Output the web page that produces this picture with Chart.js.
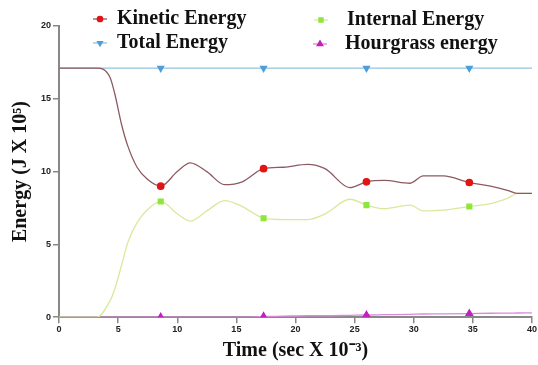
<!DOCTYPE html>
<html>
<head>
<meta charset="utf-8">
<script src="https://cdn.jsdelivr.net/npm/chart.js@4/dist/chart.umd.min.js"></script>
<style>
  html, body { margin: 0; padding: 0; background: #fff; }
  #wrap { width: 538px; height: 365px; }
</style>
</head>
<body>
<div id="wrap"><canvas id="chart" width="538" height="365"></canvas></div>
<script>
'use strict';
// time (sec x 10^-3)
var timeValues = [0, 2.5, 3.2, 4.3, 4.7, 5.3, 5.8, 6.6, 7.5, 8.6, 10, 11.1, 12.5, 14, 15.5, 17.3, 19, 21, 22.5, 24.6, 26, 27.5, 29.7, 30.8, 32.5, 34.7, 36.5, 38, 38.8, 40];
// energy (J x 10^5)
var kineticValues = [17.1, 17.1, 17.1, 16.5, 15.4, 13.2, 11.8, 10.3, 9.45, 9.0, 10.0, 10.6, 10.0, 9.1, 9.3, 10.2, 10.3, 10.5, 10.2, 8.9, 9.3, 9.4, 9.2, 9.7, 9.7, 9.25, 9.0, 8.7, 8.5, 8.5];
var internalValues = [0, 0, 0, 1.1, 1.9, 3.6, 5.1, 6.5, 7.4, 7.95, 7.1, 6.6, 7.3, 8.0, 7.6, 6.8, 6.7, 6.7, 7.1, 8.1, 7.7, 7.45, 7.7, 7.3, 7.35, 7.6, 7.8, 8.2, 8.5, 8.5];
var totalValues = [17.1, 17.1, 17.1, 17.1, 17.1, 17.1, 17.1, 17.1, 17.1, 17.1, 17.1, 17.1, 17.1, 17.1, 17.1, 17.1, 17.1, 17.1, 17.1, 17.1, 17.1, 17.1, 17.1, 17.1, 17.1, 17.1, 17.1, 17.1, 17.1, 17.1];
var hourglassValues = [0, 0, 0, 0, 0, 0, 0, 0, 0, 0, 0, 0, 0, 0, 0, 0.05, 0.07, 0.1, 0.1, 0.13, 0.15, 0.17, 0.2, 0.22, 0.23, 0.25, 0.27, 0.28, 0.29, 0.3];
var markerTimes = [8.6, 17.3, 26, 34.7];
var xTicks = [0, 5, 10, 15, 20, 25, 30, 35, 40];
var yTicks = [0, 5, 10, 15, 20];

function toPoints(values) {
    var pts = [];
    for (var i = 0; i < timeValues.length; i++) {
        pts.push({ x: timeValues[i], y: values[i] });
    }
    return pts;
}
function markerRadius(r) {
    return function (ctx) {
        return markerTimes.indexOf(timeValues[ctx.dataIndex]) !== -1 ? r : 0;
    };
}

var series = [
    { label: 'Kinetic Energy', data: kineticValues, line: '#8c5a62', point: '#e21414', style: 'circle', rot: 0, r: 3.2 },
    { label: 'Internal Energy', data: internalValues, line: '#d9e99c', point: '#8ee63a', style: 'rect', rot: 0, r: 3.4 },
    { label: 'Total Energy', data: totalValues, line: '#92c4e0', point: '#4c9fd9', style: 'triangle', rot: 180, r: 3.4 },
    { label: 'Hourgrass energy', data: hourglassValues, line: '#d88ad8', point: '#c21fc2', style: 'triangle', rot: 0, r: 3.8 }
];

var datasets = [];
for (var _i = 0; _i < series.length; _i++) {
    var s = series[_i];
    datasets.push({
        label: s.label,
        data: toPoints(s.data),
        borderColor: s.line,
        borderWidth: 1.3,
        backgroundColor: s.point,
        pointBackgroundColor: s.point,
        pointBorderColor: s.point,
        pointStyle: s.style,
        pointRotation: s.rot,
        pointRadius: markerRadius(s.r),
        pointHoverRadius: 0,
        cubicInterpolationMode: 'monotone',
        fill: false
    });
}

// legend drawn in two columns over the top of the plot
var legendPlugin = {
    id: 'twoColLegend',
    afterDraw: function (chart) {
        var ctx = chart.ctx;
        var spots = [
            { x: 100, y: 19 }, { x: 321, y: 20 },
            { x: 100, y: 43 }, { x: 320, y: 44 }
        ];
        var textX = [117, 347, 117, 345];
        ctx.save();
        ctx.font = 'bold 20px "Liberation Serif", "Times New Roman", serif';
        ctx.textBaseline = 'middle';
        for (var i = 0; i < series.length; i++) {
            var s = series[i];
            var p = spots[i];
            ctx.strokeStyle = s.line;
            ctx.lineWidth = 1.3;
            ctx.beginPath();
            ctx.moveTo(p.x - 7, p.y);
            ctx.lineTo(p.x + 7, p.y);
            ctx.stroke();
            ctx.fillStyle = s.point;
            ctx.strokeStyle = s.point;
            Chart.helpers.drawPoint(ctx, { pointStyle: s.style, rotation: s.rot, radius: s.r * 0.85, borderWidth: 1 }, p.x, p.y);
            ctx.fillStyle = '#111';
            ctx.fillText(s.label, textX[i], p.y);
        }
        ctx.restore();
    }
};

var tickFont = { family: 'Arial, "Liberation Sans", sans-serif', size: 9, weight: 'bold' };
var serif = '"Liberation Serif", "Times New Roman", serif';

var chart = new Chart(document.getElementById('chart'), {
    type: 'line',
    data: { datasets: datasets },
    options: {
        responsive: false,
        animation: false,
        layout: { padding: { top: 26, right: 4, left: 9, bottom: 2 } },
        plugins: {
            legend: { display: false },
            tooltip: { enabled: false }
        },
        scales: {
            x: {
                type: 'linear',
                min: 0,
                max: 40,
                afterBuildTicks: function (axis) {
                    axis.ticks = xTicks.map(function (v) { return { value: v }; });
                },
                grid: { display: true, drawOnChartArea: false, drawTicks: true, tickLength: 6, color: '#888', lineWidth: 1.5 },
                border: { display: true, color: '#888', width: 2 },
                ticks: { font: tickFont, color: '#222', padding: 1, maxRotation: 0 },
                title: { display: true, text: 'Time (sec X 10\u207B\u00B3)', font: { family: serif, size: 20, weight: 'bold' }, color: '#111', padding: { top: 3, bottom: 0 } }
            },
            y: {
                min: 0,
                max: 20,
                afterBuildTicks: function (axis) {
                    axis.ticks = yTicks.map(function (v) { return { value: v }; });
                },
                grid: { display: true, drawOnChartArea: false, drawTicks: true, tickLength: 6, color: '#888', lineWidth: 1.5 },
                border: { display: true, color: '#888', width: 2 },
                ticks: { font: tickFont, color: '#222', padding: 2 },
                title: { display: true, text: 'Energy (J X 10\u2075)', font: { family: serif, size: 20, weight: 'bold' }, color: '#111', padding: { top: 0, bottom: 6 } }
            }
        }
    },
    plugins: [legendPlugin]
});
console.log(chart.chartArea);
</script>
</body>
</html>
